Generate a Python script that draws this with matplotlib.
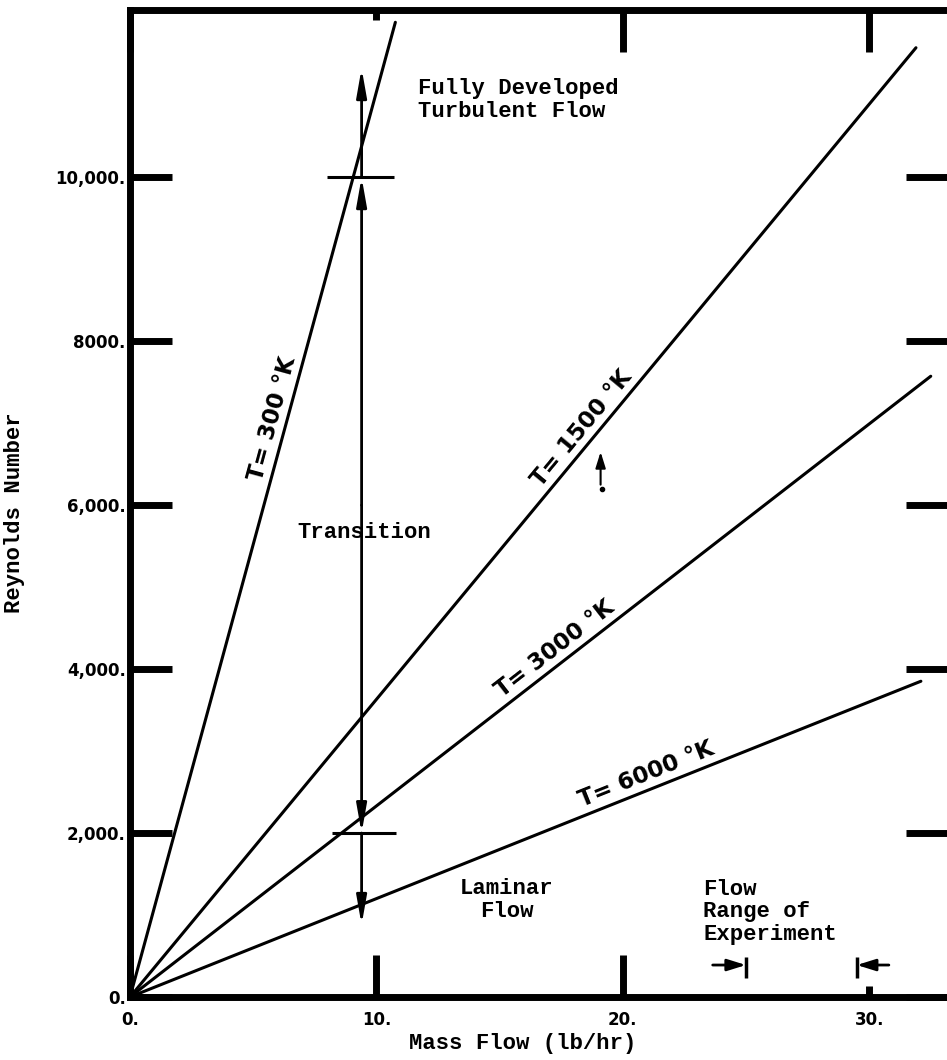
import numpy as np
import matplotlib.pyplot as plt

# constant-temperature lines: Reynolds number per (lb/hr)
temps_K = ["300", "1500", "3000", "6000"]
slopes = [1104, 363, 233, 120]
x_ends = [10.77, 31.9, 32.5, 32.1]      # where each hand-drawn line stops
label_x = [6.35, 18.8, 17.6, 21.2]      # where the "T=" labels sit along each line

x_ticks = [0, 10, 20, 30]
x_ticklabels = ["0.", "10.", "20.", "30."]
y_ticks = [0, 2000, 4000, 6000, 8000, 10000]
y_ticklabels = ["0.", "2,000.", "4,000.", "6,000.", "8000.", "10,000."]

# transition band: vertical double arrow with limit marks
transition_x = 9.4
transition_bottom = 880
transition_top = 11330
re_limits = [2000, 10000]
limit_left = [8.2, 8.0]
limit_right = [10.8, 10.7]

# flow range of experiment markers
flow_range = [25.0, 29.5]
flow_range_tails = [23.65, 30.8]
flow_range_y = 390
flow_bar_lo, flow_bar_hi = 230, 490

W, H = 947, 1060
fig = plt.figure(figsize=(W / 100, H / 100), dpi=100)
ax = fig.add_axes([130 / W, 63 / H, 818 / W, 987 / H])

mono = "Liberation Mono"
hand = "DejaVu Sans"

ax.set_xlim(0, 33.2)
ax.set_ylim(0, 12040)

# temperature lines
for T, m, xe, lx in zip(temps_K, slopes, x_ends, label_x):
    ax.plot([0, xe], [0, m * xe], color="black", lw=2.2, solid_capstyle="round")

    p0 = ax.transData.transform((0, 0))
    p1 = ax.transData.transform((xe, m * xe))
    ang = np.degrees(np.arctan2(p1[1] - p0[1], p1[0] - p0[0]))
    off = 2.5
    ax.annotate(
        f"T= {T} °K",
        xy=(lx, m * lx),
        xytext=(-off * np.sin(np.radians(ang)), off * np.cos(np.radians(ang))),
        textcoords="offset points",
        rotation=ang,
        rotation_mode="anchor",
        ha="center",
        va="bottom",
        fontsize=16.5,
        family=hand,
        fontweight="bold",
    )

# transition double arrow
arrow = dict(
    arrowstyle="-|>,head_length=0.85,head_width=0.15",
    color="black",
    lw=2,
    mutation_scale=20,
    shrinkA=0,
    shrinkB=0,
)
mid = 6000
for y0, y1 in [(mid, re_limits[0]), (re_limits[0], transition_bottom),
               (mid, re_limits[1]), (re_limits[1], transition_top)]:
    ax.annotate("", xy=(transition_x, y1), xytext=(transition_x, y0), arrowprops=arrow)

ax.hlines(re_limits, limit_left, limit_right, color="black", lw=2.2)

# flow range of experiment
for xb, xt in zip(flow_range, flow_range_tails):
    ax.annotate("", xy=(xb, flow_range_y), xytext=(xt, flow_range_y),
                arrowprops=dict(arrowstyle="-|>,head_length=0.8,head_width=0.25",
                                color="black", lw=2, mutation_scale=14,
                                shrinkA=0, shrinkB=0))
    ax.vlines(xb, flow_bar_lo, flow_bar_hi, color="black", lw=2.5)

# stray pencil mark near the 1500 K line
ax.annotate("", xy=(19.1, 6650), xytext=(19.1, 6250),
            arrowprops=dict(arrowstyle="-|>,head_length=0.8,head_width=0.25",
                            color="black", lw=1.5, mutation_scale=12,
                            shrinkA=0, shrinkB=0))
ax.plot([19.15], [6200], "o", color="black", ms=3)

# region annotations
txt = dict(family=mono, fontsize=16, fontweight="bold", color="black")
ax.text((418 - 130) / 818, (997 - 100) / 987, "Fully Developed\nTurbulent Flow",
        transform=ax.transAxes, ha="left", va="center", linespacing=1.1, **txt)
ax.text((297 - 130) / 818, (997 - 533) / 987, "Transition",
        transform=ax.transAxes, ha="left", va="center", **txt)
ax.text((507 - 130) / 818, (997 - 900) / 987, "Laminar\nFlow",
        transform=ax.transAxes, ha="center", va="center", linespacing=1.1, **txt)
ax.text((703 - 130) / 818, (997 - 912) / 987, "Flow\nRange of\nExperiment",
        transform=ax.transAxes, ha="left", va="center", linespacing=1.1, **txt)

# axes styling
for side in ["left", "top", "bottom"]:
    ax.spines[side].set_linewidth(5)
ax.spines["right"].set_visible(False)

ax.set_xticks(x_ticks)
ax.set_xticklabels(x_ticklabels, family=hand, fontweight="bold", fontsize=12)
ax.set_yticks(y_ticks)
ax.set_yticklabels(y_ticklabels, family=hand, fontweight="bold", fontsize=12)
ax.tick_params(axis="both", direction="in", length=30, width=5,
               top=True, right=True)
ax.tick_params(axis="x", pad=10)
ax.tick_params(axis="y", pad=3)

xt_objs = ax.xaxis.get_major_ticks()
xt_objs[3].tick1line.set_markersize(8)   # short bottom tick at 30
xt_objs[1].tick2line.set_markersize(7)   # short top tick at 10

ax.set_xlabel("Mass Flow (lb/hr)", family=mono, fontsize=16, fontweight="bold")
ax.xaxis.set_label_coords((523 - 130) / 818, (997 - 1043) / 987)
ax.xaxis.label.set_va("center")
fig.text(15 / W, (H - 513) / H, "Reynolds Number", rotation=90,
         ha="center", va="center", family=mono, fontsize=16, fontweight="bold")

fig.savefig("out.png", dpi=100)
